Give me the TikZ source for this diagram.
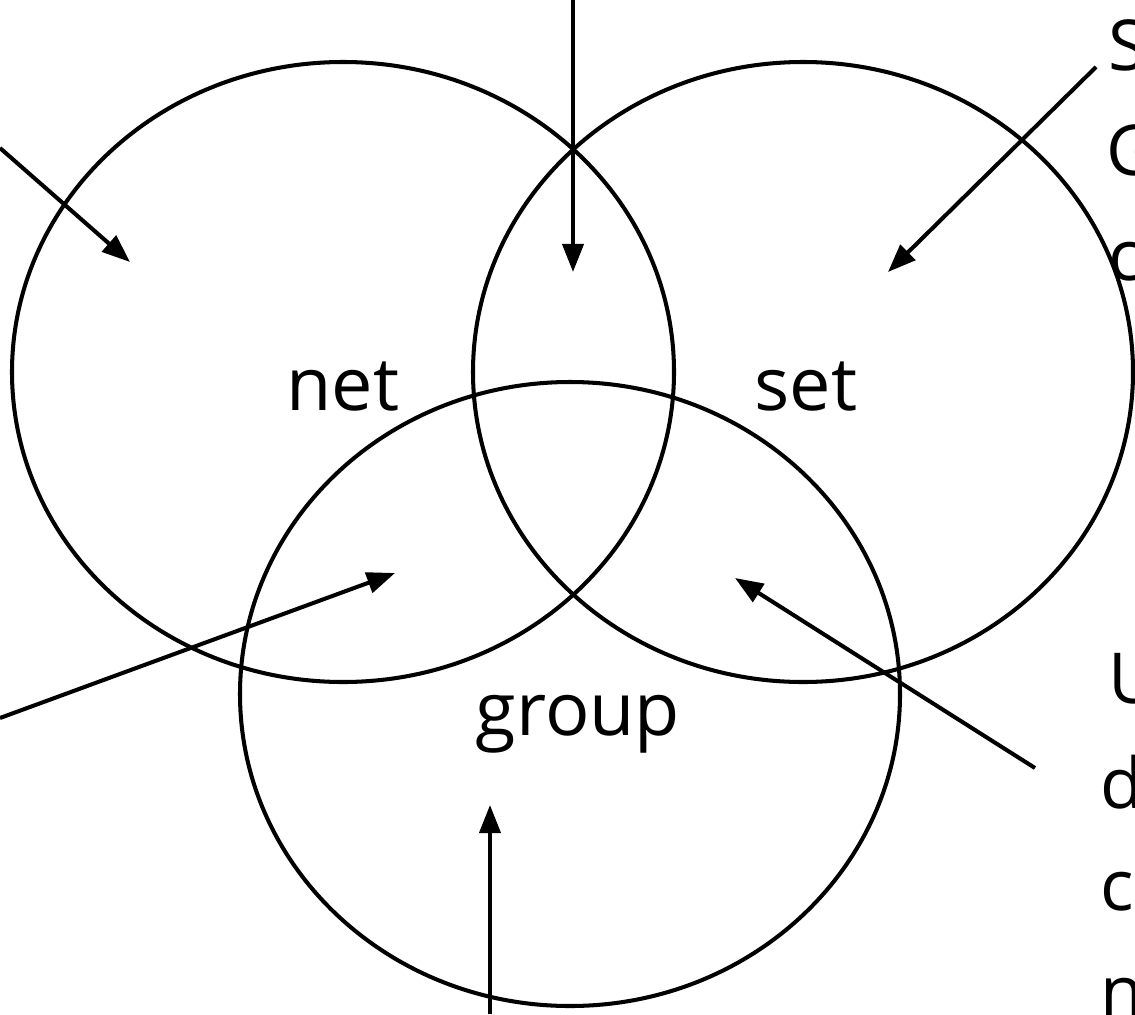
\documentclass[tikz,border=0pt]{standalone}
\usepackage{fontspec}
\setmainfont{Open Sans}
\usetikzlibrary{arrows.meta}

\tikzset{
  region/.style={line width=2.3pt},
  pointer/.style={line width=2.3pt, -{Triangle[length=16pt,width=12pt]}},
  setname/.style={anchor=base, inner sep=0pt, font=\fontsize{42}{50}\selectfont},
  sidetext/.style={anchor=base west, inner sep=0pt, font=\fontsize{40}{48}\selectfont}
}

\begin{document}
\begin{tikzpicture}[x=0.02cm, y=-0.02cm]
  \useasboundingbox (0,0) rectangle (1135,1014);
  % the three sets
  \draw[region] (343,372) ellipse [x radius=331, y radius=310];
  \draw[region] (803,372) ellipse [x radius=330, y radius=310];
  \draw[region] (570,694) ellipse [x radius=330, y radius=312];
  % set names
  \node[setname] (net) at (343,410) {net};
  \node[setname] (set) at (806,410) {set};
  \node[setname] (group) at (578,735) {group};
  % cut-off side text
  \node[sidetext] (s1) at (1108,70) {S};
  \node[sidetext] (s2) at (1106,175) {G};
  \node[sidetext] (s3) at (1108,280) {c};
  \node[sidetext] (u1) at (1108,703) {U};
  \node[sidetext] (u2) at (1100,808) {d};
  \node[sidetext] (u3) at (1100,910) {c};
  \node[sidetext] (u4) at (1100,1016) {n};
  % arrow ends
  \coordinate (topfrom) at (573,0);
  \coordinate (topto) at (573,272);
  \coordinate (ulfrom) at (0,148);
  \coordinate (ulto) at (130,262);
  \coordinate (urfrom) at (1096,67);
  \coordinate (urto) at (888,272);
  \coordinate (llfrom) at (0,718);
  \coordinate (llto) at (395,573);
  \coordinate (lrfrom) at (1035,768);
  \coordinate (lrto) at (735,578);
  \coordinate (botfrom) at (490,1014);
  \coordinate (botto) at (490,805);
  % arrows
  \draw[pointer] (topfrom) -- (topto);
  \draw[pointer] (ulfrom) -- (ulto);
  \draw[pointer] (urfrom) -- (urto);
  \draw[pointer] (llfrom) -- (llto);
  \draw[pointer] (lrfrom) -- (lrto);
  \draw[pointer] (botfrom) -- (botto);
\end{tikzpicture}
\end{document}
